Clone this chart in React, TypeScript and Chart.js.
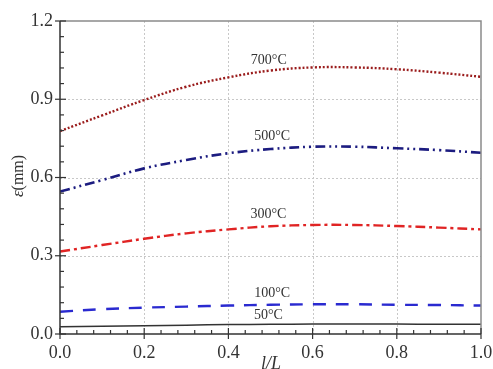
import React, { useEffect, useRef } from "react";
import { Chart, registerables } from "chart.js";

Chart.register(...registerables);

const xValues = [0, 0.1, 0.2, 0.3, 0.4, 0.5, 0.6, 0.7, 0.8, 0.9, 1.0];
const s700 = [0.778, 0.838, 0.897, 0.948, 0.984, 1.01, 1.022, 1.022, 1.015, 1.002, 0.986];
const s500 = [0.546, 0.59, 0.635, 0.667, 0.693, 0.709, 0.718, 0.718, 0.712, 0.705, 0.695];
const s300 = [0.316, 0.341, 0.365, 0.386, 0.401, 0.413, 0.418, 0.418, 0.414, 0.408, 0.401];
const s100 = [0.0855, 0.095, 0.101, 0.105, 0.109, 0.112, 0.114, 0.114, 0.112, 0.111, 0.109];
const s50 = [0.028, 0.03, 0.032, 0.034, 0.036, 0.037, 0.038, 0.038, 0.038, 0.037, 0.037];

const seriesLabels = ["700°C", "500°C", "300°C", "100°C", "50°C"];
const labelX = [0.496, 0.504, 0.495, 0.504, 0.495];
const labelY = [1.05, 0.759, 0.459, 0.156, 0.073];

const xMajor = [0, 0.2, 0.4, 0.6, 0.8, 1.0];
const yMajor = [0, 0.3, 0.6, 0.9, 1.2];

const toPts = (ys: number[]) => ys.map((y, i) => ({ x: xValues[i], y }));

const decorPlugin = {
  id: "decor",
  beforeDatasetsDraw(chart: any) {
    const { ctx, chartArea: a, scales } = chart;
    const xs = scales.x, ys = scales.y;
    ctx.save();
    ctx.strokeStyle = "#c8c8c8";
    ctx.lineWidth = 1;
    ctx.setLineDash([2, 2]);
    xMajor.forEach((v) => {
      if (v === 0 || v === 1) return;
      const px = Math.round(xs.getPixelForValue(v)) + 0.5;
      ctx.beginPath(); ctx.moveTo(px, a.top); ctx.lineTo(px, a.bottom); ctx.stroke();
    });
    yMajor.forEach((v) => {
      if (v === 0 || v === 1.2) return;
      const py = Math.round(ys.getPixelForValue(v)) + 0.5;
      ctx.beginPath(); ctx.moveTo(a.left, py); ctx.lineTo(a.right, py); ctx.stroke();
    });
    ctx.restore();
  },
  afterDraw(chart: any) {
    const { ctx, chartArea: a, scales } = chart;
    const xs = scales.x, ys = scales.y;
    ctx.save();
    ctx.setLineDash([]);
    ctx.strokeStyle = "#8a8a8a";
    ctx.lineWidth = 1.5;
    ctx.beginPath();
    ctx.moveTo(a.left, a.top); ctx.lineTo(a.right, a.top); ctx.lineTo(a.right, a.bottom);
    ctx.stroke();
    ctx.strokeStyle = "#333";
    ctx.lineWidth = 1.5;
    ctx.beginPath();
    ctx.moveTo(a.left, a.top); ctx.lineTo(a.left, a.bottom); ctx.lineTo(a.right, a.bottom);
    ctx.stroke();
    ctx.lineWidth = 1.2;
    for (let i = 0; i <= 25; i++) {
      const v = i * 0.04;
      const px = xs.getPixelForValue(v);
      const major = i % 5 === 0;
      ctx.beginPath();
      ctx.moveTo(px, a.bottom + (major ? 5 : 0));
      ctx.lineTo(px, a.bottom - (major ? 6 : 4));
      ctx.stroke();
    }
    for (let i = 0; i <= 20; i++) {
      const v = i * 0.06;
      const py = ys.getPixelForValue(v);
      const major = i % 5 === 0;
      ctx.beginPath();
      ctx.moveTo(a.left - (major ? 5 : 0), py);
      ctx.lineTo(a.left + (major ? 6 : 4), py);
      ctx.stroke();
    }
    ctx.fillStyle = "#333";
    ctx.font = '14px "Liberation Serif"';
    ctx.textAlign = "center";
    ctx.textBaseline = "middle";
    seriesLabels.forEach((t, i) => {
      ctx.fillText(t, xs.getPixelForValue(labelX[i]), ys.getPixelForValue(labelY[i]));
    });
    ctx.font = 'italic 18px "Liberation Serif"';
    ctx.textBaseline = "alphabetic";
    ctx.fillText("l/L", 271, 369);
    ctx.translate(19, 176);
    ctx.rotate(-Math.PI / 2);
    ctx.textAlign = "left";
    ctx.textBaseline = "middle";
    ctx.font = 'italic 17px "Liberation Serif"';
    const w1 = ctx.measureText("ε").width;
    ctx.font = '16px "Liberation Serif"';
    const w2 = ctx.measureText("(mm)").width;
    const start = -(w1 + w2) / 2;
    ctx.font = 'italic 17px "Liberation Serif"';
    ctx.fillText("ε", start, 0);
    ctx.font = '16px "Liberation Serif"';
    ctx.fillText("(mm)", start + w1, 0);
    ctx.restore();
  },
};

export default function App() {
  const ref = useRef<HTMLCanvasElement | null>(null);
  useEffect(() => {
    if (!ref.current) return;
    const chart = new Chart(ref.current, {
      type: "line",
      data: {
        datasets: [
          { label: "700°C", data: toPts(s700), borderColor: "#9a1c1c", borderWidth: 2.4, borderDash: [2, 2], pointRadius: 0, tension: 0.4, fill: false },
          { label: "500°C", data: toPts(s500), borderColor: "#1c1c80", borderWidth: 2.6, borderDash: [10, 4, 2, 4, 2, 4], pointRadius: 0, tension: 0.4, fill: false },
          { label: "300°C", data: toPts(s300), borderColor: "#e02424", borderWidth: 2.4, borderDash: [10, 4, 3, 4], pointRadius: 0, tension: 0.4, fill: false },
          { label: "100°C", data: toPts(s100), borderColor: "#2a2ad0", borderWidth: 2.4, borderDash: [13, 10], pointRadius: 0, tension: 0.4, fill: false },
          { label: "50°C", data: toPts(s50), borderColor: "#333333", borderWidth: 1.5, pointRadius: 0, tension: 0.4, fill: false },
        ],
      },
      options: {
        responsive: false,
        animation: false,
        layout: { padding: { top: 21, right: 12, left: 0, bottom: 0 } },
        plugins: { legend: { display: false }, tooltip: { enabled: false } },
        scales: {
          x: {
            type: "linear",
            min: 0,
            max: 1,
            grid: { display: false, drawTicks: false },
            border: { display: false },
            ticks: {
              stepSize: 0.2,
              padding: 8,
              color: "#333",
              font: { family: "Liberation Serif", size: 18 },
              callback: (v: any) => Number(v).toFixed(1),
            },
            afterFit: (s: any) => { s.height = 35; s.paddingLeft = 0; s.paddingRight = 0; },
          },
          y: {
            type: "linear",
            min: 0,
            max: 1.2,
            grid: { display: false, drawTicks: false },
            border: { display: false },
            ticks: {
              stepSize: 0.3,
              padding: 7,
              color: "#333",
              font: { family: "Liberation Serif", size: 18 },
              callback: (v: any) => Number(v).toFixed(1),
            },
            afterFit: (s: any) => { s.width = 60; s.paddingTop = 0; s.paddingBottom = 0; },
          },
        },
      },
      plugins: [decorPlugin],
    });
    return () => chart.destroy();
  }, []);
  return (
    <div style={{ position: "absolute", left: 0, top: 0, width: 493, height: 369, background: "#fff" }}>
      <canvas ref={ref} width={493} height={369} />
    </div>
  );
}
